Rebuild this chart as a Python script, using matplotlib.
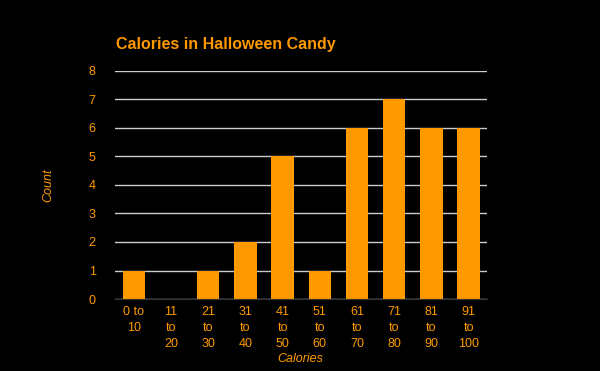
import matplotlib.pyplot as plt

categories = ["0 to\n10", "11\nto\n20", "21\nto\n30", "31\nto\n40", "41\nto\n50",
              "51\nto\n60", "61\nto\n70", "71\nto\n80", "81\nto\n90", "91\nto\n100"]
counts = [1, 0, 1, 2, 5, 1, 6, 7, 6, 6]
yticks = [0, 1, 2, 3, 4, 5, 6, 7, 8]

orange = "#FF9900"
plt.rcParams['font.family'] = ['Liberation Sans', 'DejaVu Sans']

fig = plt.figure(figsize=(6, 3.71), dpi=100, facecolor="black")
ax = fig.add_axes([0.192, 0.194, 0.62, 0.615], facecolor="black")

x = range(len(categories))
ax.bar(x, counts, width=0.6, color=orange, zorder=3)

ax.set_xlim(-0.5, len(categories) - 0.5)
ax.set_ylim(0, 8)
ax.set_yticks(yticks)
ax.set_xticks(list(x))
ax.set_xticklabels(categories, linespacing=1.45, va="top")
ax.yaxis.grid(True, color="#CCCCCC", linewidth=1, zorder=0)
ax.tick_params(axis="both", length=0, colors=orange, labelsize=9)
ax.tick_params(axis="y", pad=14)
ax.tick_params(axis="x", pad=5)

for s in ["top", "right", "left"]:
    ax.spines[s].set_visible(False)
ax.spines["bottom"].set_color("#333333")
ax.spines["bottom"].set_zorder(4)

fig.text(116 / 600, 1 - 44 / 371, "Calories in Halloween Candy", color=orange,
         fontsize=11.5, fontweight="bold", ha="left", va="center")
fig.text(48 / 600, 1 - 185 / 371, "Count", color=orange, fontsize=9,
         style="italic", rotation=90, ha="center", va="center")
fig.text(300 / 600, 1 - 359 / 371, "Calories", color=orange, fontsize=9,
         style="italic", ha="center", va="center")

fig.savefig("out.png", dpi=100, facecolor="black")
